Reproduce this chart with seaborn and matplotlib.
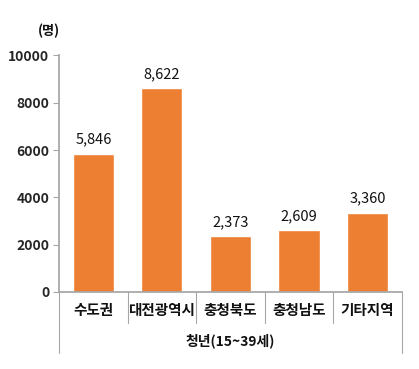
import matplotlib
matplotlib.use("Agg")
import matplotlib.pyplot as plt
import matplotlib.transforms as mtransforms
import seaborn as sns
import pandas as pd

categories = ["수도권", "대전광역시", "충청북도", "충청남도", "기타지역"]
values = [5846, 8622, 2373, 2609, 3360]
group_label = "청년(15~39세)"
unit_label = "(명)"
yticks = [0, 2000, 4000, 6000, 8000, 10000]

sns.set_theme(style="white")
plt.rcParams['font.family'] = ['Noto Sans CJK KR', 'DejaVu Sans']

df = pd.DataFrame({"region": categories, "count": values})

fig = plt.figure(figsize=(4.19, 3.69), dpi=100)
ax = fig.add_axes([0.141, 0.2087, 0.818, 0.641])

sns.barplot(data=df, x="region", y="count", color="#EC7F31", saturation=1,
            width=0.6, ax=ax)

ax.set_ylim(0, 10000)
ax.set_xlim(-0.5, len(categories) - 0.5)
ax.set_yticks(yticks)
ax.set_yticklabels([str(t) for t in yticks], fontsize=10, fontweight="bold")
ax.set_xticks([])
ax.set_xlabel("")
ax.set_ylabel("")

for s in ["top", "right"]:
    ax.spines[s].set_visible(False)
ax.spines["left"].set_color("#a6a6a6")
ax.spines["bottom"].set_color("#a6a6a6")
ax.tick_params(axis="y", length=4, color="#a6a6a6", width=0.8, pad=3, left=True)

labels = [f"{v:,}" for v in values]
ax.bar_label(ax.containers[0], labels=labels, padding=5, fontsize=10.5,
             fontweight="medium", color="#111111")

# category labels and separators below the axis
trans = mtransforms.blended_transform_factory(ax.transData, ax.transAxes)
for i, c in enumerate(categories):
    ax.text(i, -0.076, c, transform=trans, ha="center", va="center",
            fontsize=10.5, fontweight="bold", color="#111111")
for i in range(len(categories) + 1):
    bottom = -0.258 if i in (0, len(categories)) else -0.131
    ax.plot([i - 0.5, i - 0.5], [0, bottom], transform=trans, color="#a6a6a6",
            lw=0.8, clip_on=False)
ax.text((len(categories) - 1) / 2, -0.205, group_label, transform=trans,
        ha="center", va="center", fontsize=10, fontweight="bold", color="#111111")

ax.text(-0.03, 1.104, unit_label, transform=ax.transAxes, ha="center", va="center",
        fontsize=9.5, fontweight="bold", color="#111111")

fig.savefig("out.png", dpi=100)
